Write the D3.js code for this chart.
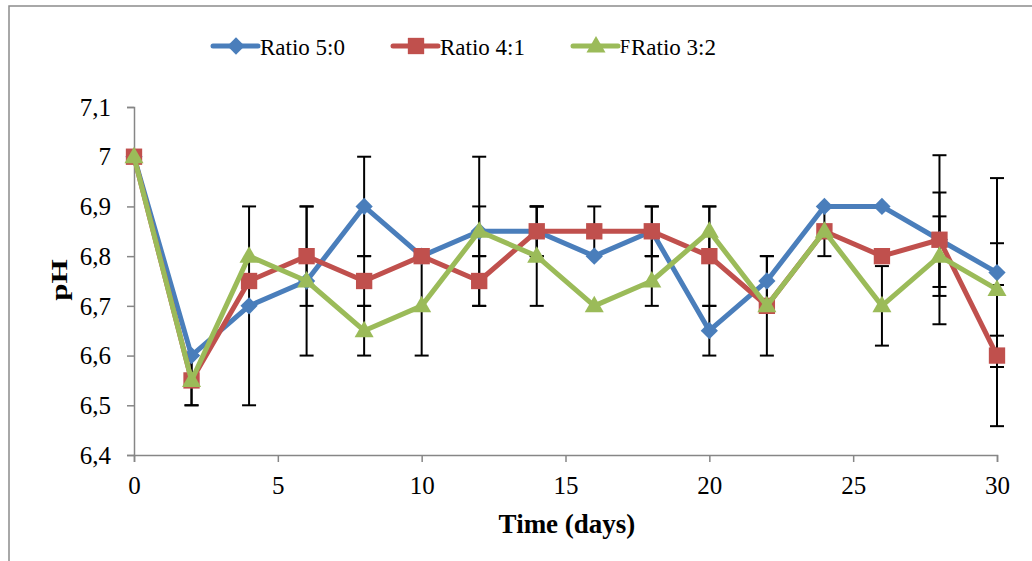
<!DOCTYPE html>
<html>
<head>
<meta charset="utf-8">
<script src="https://cdn.jsdelivr.net/npm/d3@7"></script>
<style>
  body { margin: 0; background: #fff; }
  svg { display: block; }
</style>
</head>
<body>
<svg id="chart" width="1032" height="561"></svg>
<script>
// data
const days = [0, 2, 4, 6, 8, 10, 12, 14, 16, 18, 20, 22, 24, 26, 28, 30];

const ratio50 = [7.0, 6.6, 6.7, 6.75, 6.9, 6.8, 6.85, 6.85, 6.8, 6.85, 6.65, 6.75, 6.9, 6.9, 6.833, 6.767];
const ratio41 = [7.0, 6.55, 6.75, 6.8, 6.75, 6.8, 6.75, 6.85, 6.85, 6.85, 6.8, 6.7, 6.85, 6.8, 6.833, 6.6];
const ratio32 = [7.0, 6.55, 6.8, 6.75, 6.65, 6.7, 6.85, 6.8, 6.7, 6.75, 6.85, 6.7, 6.85, 6.7, 6.8, 6.733];

// error (+/-) for each point
const err50 = [0, 0, 0.2, 0.15, 0.1, 0, 0.15, 0.05, 0, 0.05, 0.05, 0.05, 0, 0, 0.095, 0.19];
const err41 = [0, 0.05, 0, 0.1, 0.05, 0, 0.05, 0.05, 0.05, 0.05, 0.1, 0.1, 0.05, 0, 0.17, 0.142];
const err32 = [0, 0.05, 0, 0, 0.05, 0.1, 0.05, 0.1, 0, 0.05, 0.05, 0, 0, 0.08, 0.08, 0.093];

const yTicks = [6.4, 6.5, 6.6, 6.7, 6.8, 6.9, 7.0, 7.1];
const xTicks = [0, 5, 10, 15, 20, 25, 30];

const series = [
  { name: "Ratio 5:0", values: ratio50, err: err50, color: "#4a7ebb", marker: "diamond" },
  { name: "Ratio 4:1", values: ratio41, err: err41, color: "#c0504d", marker: "square" },
  { name: "Ratio 3:2", values: ratio32, err: err32, color: "#9bbb59", marker: "triangle" }
];

const serif = "'Liberation Serif', 'Times New Roman', Times, serif";
const svg = d3.select("#chart");

// outer chart frame (runs off the right / bottom edge)
svg.append("rect")
  .attr("x", 9).attr("y", 6)
  .attr("width", 1040).attr("height", 570)
  .attr("fill", "none")
  .attr("stroke", "#8c8c8c")
  .attr("stroke-width", 1.5);

const x = d3.scaleLinear().domain([0, 30]).range([134, 997]);
const y = d3.scaleLinear().domain([6.4, 7.1]).range([455, 107]);

const fmt = d => d3.format(".1f")(d).replace(".", ",").replace(/,0$/, "");

// y axis
const yAxis = svg.append("g")
  .attr("transform", "translate(134,0)")
  .call(d3.axisLeft(y).tickValues(yTicks).tickFormat(fmt).tickSize(7).tickPadding(16));
// x axis
const xAxis = svg.append("g")
  .attr("transform", "translate(0,455)")
  .call(d3.axisBottom(x).tickValues(xTicks).tickFormat(d3.format("d")).tickSize(7).tickPadding(14));

[yAxis, xAxis].forEach(a => {
  a.attr("font-family", serif).attr("font-size", 25);
  a.select(".domain").attr("stroke", "#868686").attr("stroke-width", 1.5);
  a.selectAll(".tick line").attr("stroke", "#868686").attr("stroke-width", 1.5);
  a.selectAll(".tick text")
    .attr("fill", "#000")
    .style("font-family", serif)
    .style("font-size", "25px");
});
yAxis.selectAll(".tick text").attr("dy", "0.33em");

// axis titles
svg.append("text")
  .attr("x", 567).attr("y", 533)
  .attr("text-anchor", "middle")
  .style("font-family", serif)
  .style("font-size", "27px").style("font-weight", "bold")
  .text("Time (days)");

svg.append("text")
  .attr("transform", "translate(67,280) rotate(-90) scale(1.3,1)")
  .attr("text-anchor", "middle")
  .style("font-family", serif)
  .style("font-size", "24px").style("font-weight", "bold")
  .text("pH");

// error bars first, markers sit on top
const capW = 7;
series.forEach(s => {
  const g = svg.append("g");
  days.forEach((d, i) => {
    const e = s.err[i];
    if (!e) return;
    const cx = x(d), y0 = y(s.values[i] - e), y1 = y(s.values[i] + e);
    g.append("line").attr("x1", cx).attr("x2", cx).attr("y1", y0).attr("y2", y1)
      .attr("stroke", "#000").attr("stroke-width", 2);
    [y0, y1].forEach(yy => g.append("line")
      .attr("x1", cx - capW).attr("x2", cx + capW).attr("y1", yy).attr("y2", yy)
      .attr("stroke", "#000").attr("stroke-width", 2));
  });
});

const markerPath = {
  diamond: d3.symbol().type(d3.symbolDiamond2).size(190),
  square: d3.symbol().type(d3.symbolSquare2).size(340),
  triangle: d3.symbol().type(d3.symbolTriangle2).size(260)
};

const line = d3.line().x((d, i) => x(days[i])).y(d => y(d));

series.forEach(s => {
  svg.append("path")
    .datum(s.values)
    .attr("d", line)
    .attr("fill", "none")
    .attr("stroke", s.color)
    .attr("stroke-width", 5)
    .attr("stroke-linejoin", "round");
  svg.append("g").selectAll("path")
    .data(s.values)
    .join("path")
    .attr("transform", (d, i) => `translate(${x(days[i])},${y(d) + (s.marker === "triangle" ? 1 : 0)})`)
    .attr("d", markerPath[s.marker]())
    .attr("fill", s.color)
    .attr("stroke", "none");
});

// legend
const legendX = [213, 393, 573];
const legendY = 46;
series.forEach((s, i) => {
  const g = svg.append("g").attr("transform", `translate(${legendX[i]},${legendY})`);
  g.append("line").attr("x1", 0).attr("x2", 45).attr("y1", 0).attr("y2", 0)
    .attr("stroke", s.color).attr("stroke-width", 5).attr("stroke-linecap", "round");
  g.append("path")
    .attr("transform", `translate(23,${s.marker === "triangle" ? 1 : 0})`)
    .attr("d", markerPath[s.marker]())
    .attr("fill", s.color);
  if (i === 2) {
    g.append("text").attr("x", 47).attr("y", 7)
      .style("font-family", serif).style("font-size", "18px").text("F");
    g.append("text").attr("x", 58).attr("y", 9)
      .style("font-family", serif).style("font-size", "23px").text(s.name);
  } else {
    g.append("text").attr("x", 47).attr("y", 9)
      .style("font-family", serif).style("font-size", "23px").text(s.name);
  }
});
</script>
</body>
</html>
